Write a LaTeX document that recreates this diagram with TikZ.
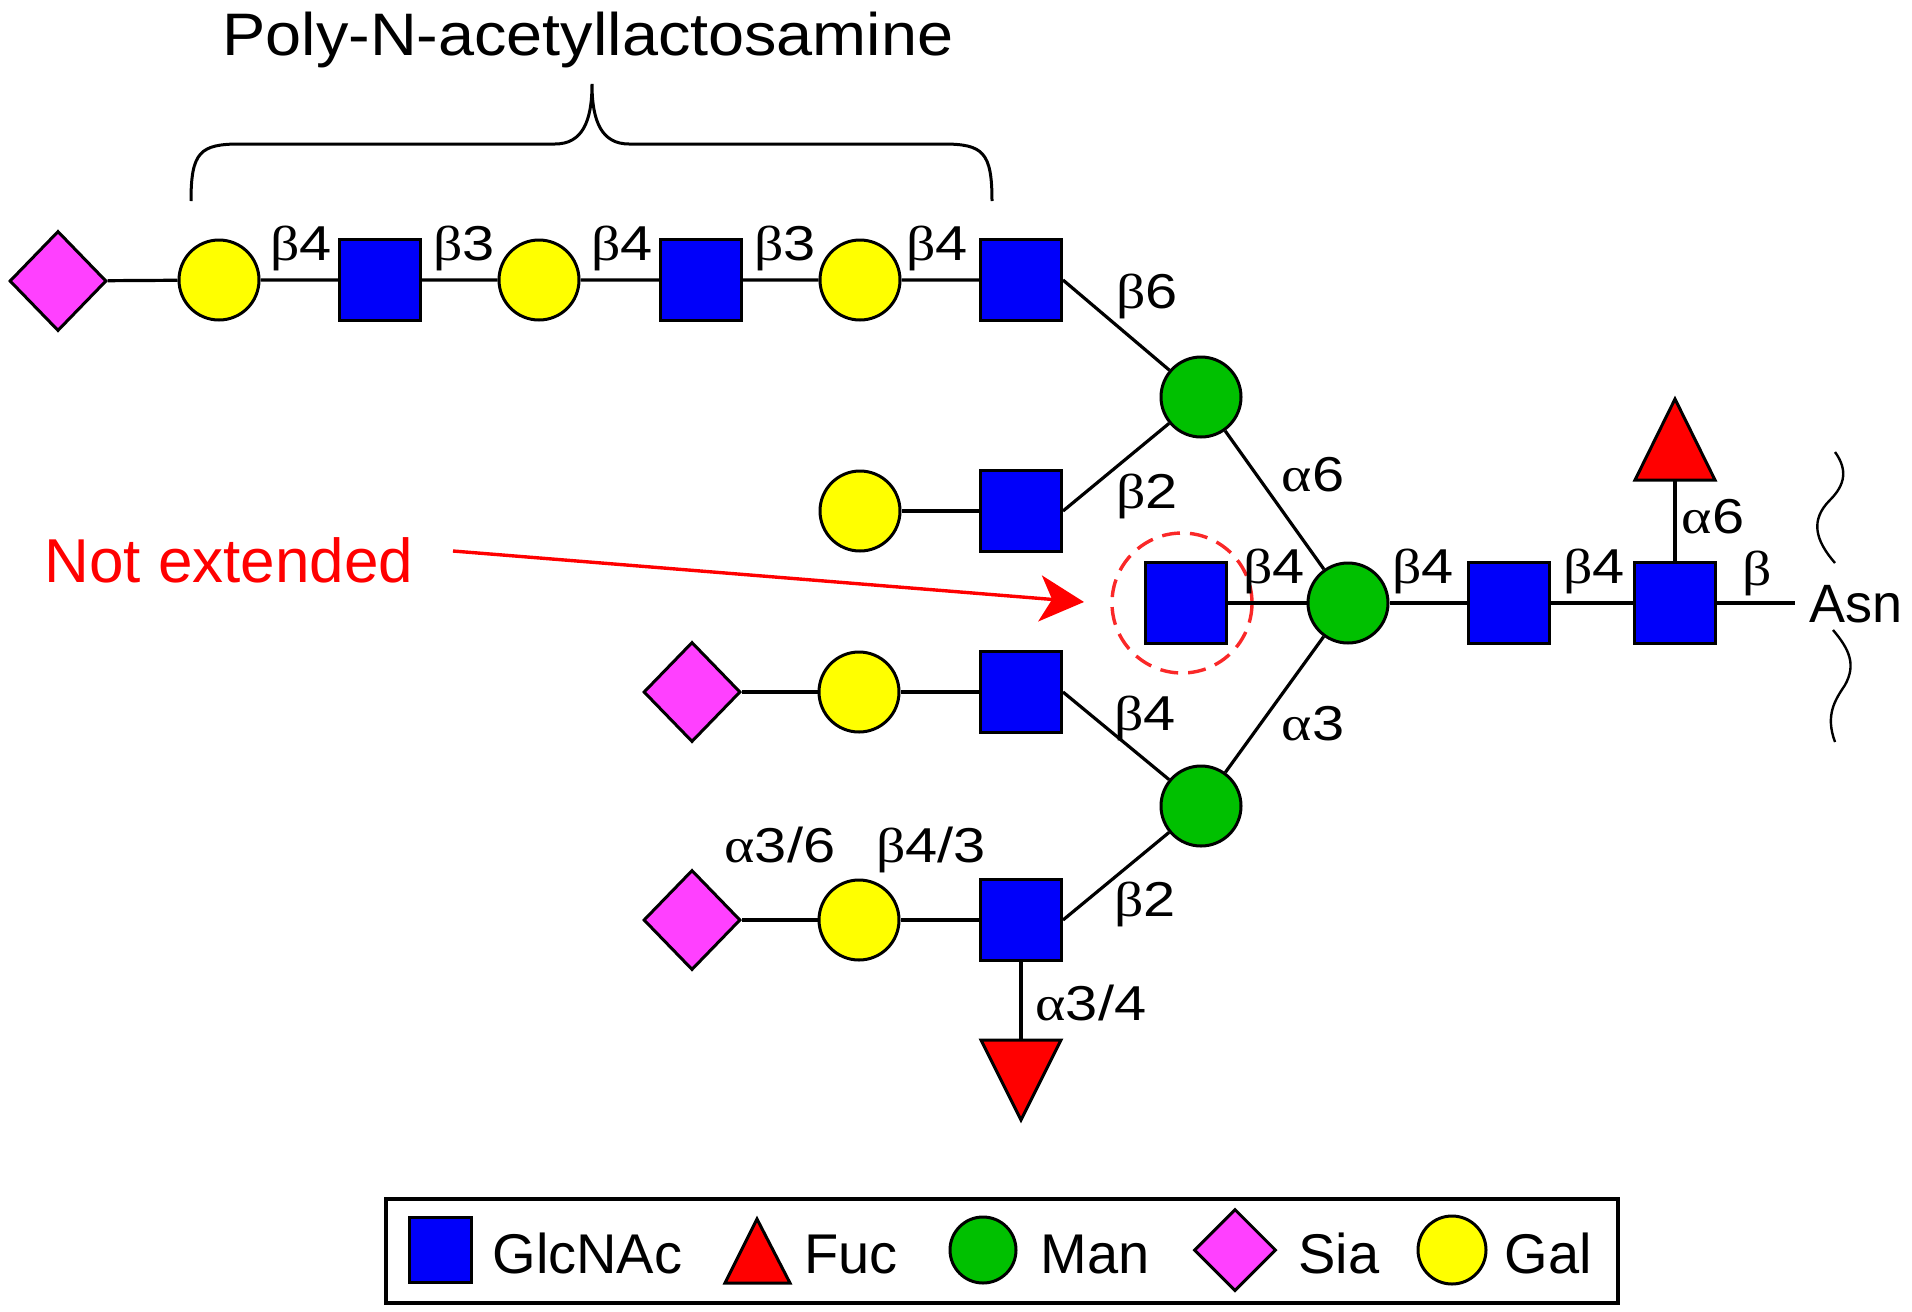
\documentclass[tikz,border=0pt]{standalone}
\usepackage{fontspec}
\setmainfont{Liberation Sans}
\newfontfamily\lblfont[FakeStretch=1.18]{Liberation Sans}
\newfontfamily\grk[FakeStretch=1.18]{Liberation Serif}
\newfontfamily\titlefont[FakeStretch=1.08]{Liberation Sans}
\usetikzlibrary{shapes.geometric,arrows.meta}
\definecolor{gnblue}{RGB}{0,0,250}
\definecolor{mangreen}{RGB}{0,192,0}
\definecolor{galyellow}{RGB}{255,255,0}
\definecolor{siamag}{RGB}{255,64,255}
\definecolor{fucred}{RGB}{255,0,0}
\definecolor{dashred}{RGB}{250,40,40}
\begin{document}
\begin{tikzpicture}[x=0.5pt,y=-0.5pt, line width=1.5pt,
  sGn/.style={draw=black, fill=gnblue, rectangle, minimum size=40.5pt, inner sep=0pt},
  sGal/.style={draw=black, fill=galyellow, circle, minimum size=40pt, inner sep=0pt},
  sMan/.style={draw=black, fill=mangreen, circle, minimum size=40pt, inner sep=0pt},
  sSia/.style={draw=black, fill=siamag, diamond, minimum width=48.5pt, minimum height=50pt, inner sep=0pt},
  sFuc/.style={draw=black, fill=fucred, line join=miter},
  lbl/.style={font=\lblfont\fontsize{24.5}{28}\selectfont, inner sep=0pt, anchor=base},
  leg/.style={font=\fontsize{28}{32}\selectfont, inner sep=0pt, anchor=base west},
  bond/.style={draw=black, line width=1.6pt}]
\useasboundingbox (0,0) rectangle (1912,1312);

% title and brace
\node[font=\titlefont\fontsize{30}{34}\selectfont, inner sep=0pt, anchor=base] (title) at (588,55) {Poly-N-acetyllactosamine};
\draw[line width=1.5pt] (191,201) .. controls (191,152) and (200,144) .. (240,144) -- (555,144)
   .. controls (582,144) and (592,122) .. (592,84)
   .. controls (592,122) and (602,144) .. (629,144) -- (943,144)
   .. controls (983,144) and (992,152) .. (992,201);

% top row
\node[sSia] (sia1) at (58,281) {};
\node[sGal] (gal1) at (219,280) {};
\node[sGn]  (gn1)  at (380,280) {};
\node[sGal] (gal2) at (539,280) {};
\node[sGn]  (gn2)  at (701,280) {};
\node[sGal] (gal3) at (860,280) {};
\node[sGn]  (gn3)  at (1021,280) {};

% mannose core
\node[sMan] (man6) at (1201,397) {};
\node[sMan] (man)  at (1348,603) {};
\node[sMan] (man3) at (1201,806) {};

% second row
\node[sGal] (gal4) at (860,511) {};
\node[sGn]  (gn4)  at (1021,511) {};

% bisecting GlcNAc
\node[sGn] (gnX) at (1186,603) {};
\node[draw=dashred, dash pattern=on 9pt off 5pt, line width=1.7pt, circle, minimum size=70pt, inner sep=0pt] (dc) at (1182,603) {};

% core chitobiose
\node[sGn] (gnc1) at (1509,603) {};
\node[sGn] (gnc2) at (1675,603) {};
\coordinate (fucA) at (1675,480);
\coordinate (asnL) at (1795,603);
\node[font=\fontsize{27}{32}\selectfont, inner sep=0pt, anchor=base west] (asn) at (1808,622) {Asn};

% third row
\node[sSia] (sia2) at (692,692) {};
\node[sGal] (gal5) at (859,692) {};
\node[sGn]  (gn5)  at (1021,692) {};

% fourth row
\node[sSia] (sia3) at (692,920) {};
\node[sGal] (gal6) at (859,920) {};
\node[sGn]  (gn6)  at (1021,920) {};
\coordinate (fucB) at (1021,1040);

% bonds
\draw[bond] (sia1) -- (gal1) -- (gn1) -- (gal2) -- (gn2) -- (gal3) -- (gn3);
\draw[bond] (gn3.east) -- (man6);
\draw[bond] (gal4) -- (gn4);
\draw[bond] (gn4.east) -- (man6);
\draw[bond] (man6) -- (man);
\draw[bond] (gnX) -- (man);
\draw[bond] (man) -- (gnc1) -- (gnc2) -- (asnL);
\draw[bond] (gnc2.north) -- (fucA);
\draw[bond] (sia2) -- (gal5) -- (gn5);
\draw[bond] (gn5.east) -- (man3);
\draw[bond] (sia3) -- (gal6) -- (gn6);
\draw[bond] (gn6.east) -- (man3);
\draw[bond] (man3) -- (man);
\draw[bond] (gn6.south) -- (fucB);

% fucose triangles
\draw[sFuc] (1635,480) -- (1715,480) -- (1675,399) -- cycle;
\draw[sFuc] (981,1040) -- (1061,1040) -- (1021,1120) -- cycle;

% Asn wavy marks
\draw[line width=1.2pt] (1835,452) .. controls (1848,470) and (1845,485) .. (1830,500)
   .. controls (1810,520) and (1815,540) .. (1835,563);
\draw[line width=1.2pt] (1833,630) .. controls (1850,650) and (1856,665) .. (1845,685)
   .. controls (1835,700) and (1825,715) .. (1835,742);

% linkage labels
\node[lbl] (b1) at (301,260) {{\grk β}4};
\node[lbl] (b2) at (464,260) {{\grk β}3};
\node[lbl] (b3) at (622,260) {{\grk β}4};
\node[lbl] (b4) at (785,260) {{\grk β}3};
\node[lbl] (b5) at (937,260) {{\grk β}4};
\node[lbl] (b6) at (1147,308) {{\grk β}6};
\node[lbl] (b7) at (1147,508) {{\grk β}2};
\node[lbl] (a1) at (1313,491) {{\grk α}6};
\node[lbl] (b8) at (1274,583) {{\grk β}4};
\node[lbl] (b9) at (1423,583) {{\grk β}4};
\node[lbl] (b10) at (1594,583) {{\grk β}4};
\node[lbl] (b11) at (1757,585) {{\grk β}};
\node[lbl] (a2) at (1713,533) {{\grk α}6};
\node[lbl] (b12) at (1145,730) {{\grk β}4};
\node[lbl] (a3) at (1313,740) {{\grk α}3};
\node[lbl] (a4) at (780,862) {{\grk α}3/6};
\node[lbl] (b13) at (931,862) {{\grk β}4/3};
\node[lbl] (b14) at (1145,916) {{\grk β}2};
\node[lbl] (a5) at (1091,1020) {{\grk α}3/4};

% Not extended annotation
\node[font=\fontsize{31}{36}\selectfont, text=fucred, inner sep=0pt, anchor=base west] (ne) at (43,582) {Not extended};
\coordinate (arrS) at (453,551);
\coordinate (arrE) at (1084,602);
\draw[fucred, line width=1.7pt, -{Stealth[length=22pt,width=23pt,inset=6pt]}] (arrS) -- (arrE);

% legend
\node[draw=black, line width=2pt, minimum width=616pt, minimum height=52pt, inner sep=0pt] (legbox) at (1002,1251) {};
\node[sGn, minimum width=31pt, minimum height=32.5pt] (lgGn) at (440,1250) {};
\node[leg] (lgGnT) at (491,1273) {GlcNAc};
\coordinate (lgFuc) at (757,1251);
\draw[sFuc] (725,1283) -- (790,1283) -- (757,1219) -- cycle;
\node[leg] (lgFucT) at (803,1273) {Fuc};
\node[sMan, minimum size=33pt] (lgMan) at (983,1250) {};
\node[leg] (lgManT) at (1039,1273) {Man};
\node[sSia, minimum width=41pt, minimum height=41pt] (lgSia) at (1235,1250) {};
\node[leg] (lgSiaT) at (1297,1273) {Sia};
\node[sGal, minimum size=34pt] (lgGal) at (1452,1250) {};
\node[leg] (lgGalT) at (1503,1273) {Gal};
\end{tikzpicture}
\end{document}
